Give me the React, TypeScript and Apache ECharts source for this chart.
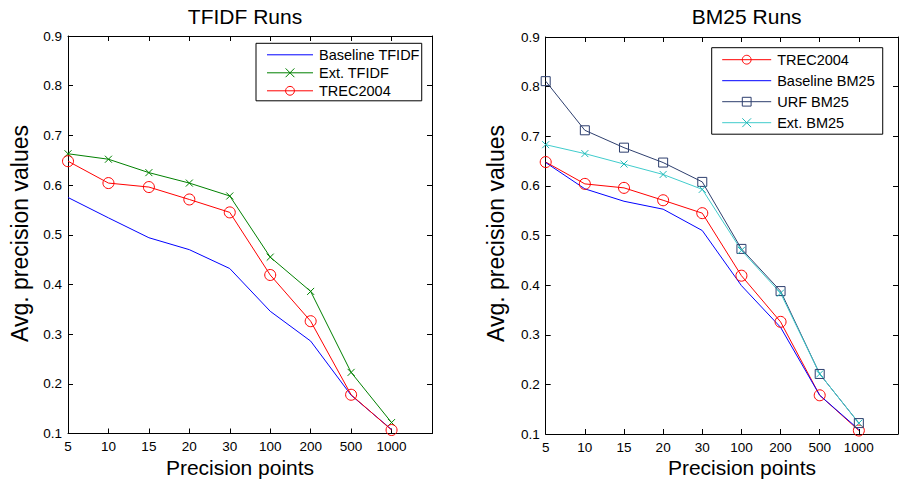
import React, { useEffect, useRef } from "react";
import * as echarts from "echarts";

const categories = ["5", "10", "15", "20", "30", "100", "200", "500", "1000"];

const tfidfBaseline = [0.575, 0.534, 0.494, 0.47, 0.432, 0.346, 0.286, 0.177, 0.108];
const tfidfExt = [0.663, 0.652, 0.625, 0.604, 0.578, 0.455, 0.386, 0.223, 0.122];
const trec2004 = [0.648, 0.604, 0.596, 0.571, 0.545, 0.419, 0.326, 0.178, 0.107];

const bm25Baseline = [0.647, 0.594, 0.569, 0.553, 0.51, 0.399, 0.315, 0.178, 0.109];
const bm25Urf = [0.811, 0.712, 0.677, 0.647, 0.608, 0.473, 0.388, 0.221, 0.122];
const bm25Ext = [0.683, 0.665, 0.644, 0.623, 0.593, 0.47, 0.384, 0.221, 0.122];

const yTicks = [0.1, 0.2, 0.3, 0.4, 0.5, 0.6, 0.7, 0.8, 0.9];

const xAxisTitle = "Precision points";
const yAxisTitle = "Avg. precision values";

const FONT = "Liberation Sans";
const CROSS = "path://M0,0L10,10M10,0L0,10";

const toPairs = (arr: number[]) => arr.map((v, i) => [i, v]);

export default function App() {
  const ref = useRef<HTMLDivElement>(null);

  useEffect(() => {
    if (!ref.current) return;
    const chart = echarts.init(ref.current, null, { renderer: "svg" });

    const grids = [
      { left: 68, top: 36, width: 364, height: 397.5 },
      { left: 545.7, top: 37, width: 364, height: 397 },
    ];

    const xAxes: any[] = [];
    const yAxes: any[] = [];
    grids.forEach((_, gi) => {
      xAxes.push({
        type: "value",
        gridIndex: gi,
        min: 0,
        max: 9,
        interval: 1,
        position: "bottom",
        axisLine: { onZero: false, lineStyle: { color: "#000", width: 1 } },
        axisTick: { inside: true, length: 5, lineStyle: { color: "#000" } },
        splitLine: { show: false },
        axisLabel: {
          color: "#000",
          fontFamily: FONT,
          fontSize: 13.5,
          margin: 6,
          formatter: (v: number) => (categories[v] !== undefined ? categories[v] : ""),
        },
      });
      xAxes.push({
        type: "value",
        gridIndex: gi,
        min: 0,
        max: 9,
        interval: 1,
        position: "top",
        axisLine: { onZero: false, lineStyle: { color: "#000", width: 1 } },
        axisTick: { inside: true, length: 5, lineStyle: { color: "#000" } },
        splitLine: { show: false },
        axisLabel: { show: false },
      });
      yAxes.push({
        type: "value",
        gridIndex: gi,
        min: 0.1,
        max: 0.9,
        interval: 0.1,
        position: "left",
        axisLine: { onZero: false, lineStyle: { color: "#000", width: 1 } },
        axisTick: { inside: true, length: 5, lineStyle: { color: "#000" } },
        splitLine: { show: false },
        axisLabel: {
          color: "#000",
          fontFamily: FONT,
          fontSize: 13.5,
          margin: 6,
          formatter: (v: number) => {
            const t = yTicks.find((y) => Math.abs(y - v) < 1e-6);
            return t !== undefined ? t.toFixed(1) : "";
          },
        },
      });
      yAxes.push({
        type: "value",
        gridIndex: gi,
        min: 0.1,
        max: 0.9,
        interval: 0.1,
        position: "right",
        axisLine: { onZero: false, lineStyle: { color: "#000", width: 1 } },
        axisTick: { inside: true, length: 5, lineStyle: { color: "#000" } },
        splitLine: { show: false },
        axisLabel: { show: false },
      });
    });

    const mk = (
      name: string,
      data: number[],
      gi: number,
      color: string,
      symbol: string,
      size: number,
      markerColor?: string
    ) => ({
      name,
      type: "line",
      xAxisIndex: gi * 2,
      yAxisIndex: gi * 2,
      data: toPairs(data),
      symbol,
      symbolSize: size,
      showSymbol: symbol !== "none",
      lineStyle: { color, width: 1 },
      itemStyle: {
        color: "none",
        borderColor: markerColor || color,
        borderWidth: 1,
      },
      emphasis: { disabled: true },
      z: 2,
    });

    const noMarker = { color: "transparent", borderColor: "transparent", opacity: 0 };

    const axisText = (text: string, x: number, y: number, size: number, rotation = 0) => ({
      type: "text",
      x,
      y,
      rotation,
      silent: true,
      style: {
        text,
        fill: "#000",
        fontFamily: FONT,
        fontSize: size,
        align: "center",
        verticalAlign: "middle",
      },
    });

    const legendCommon = {
      orient: "vertical",
      itemHeight: 11,
      borderColor: "#000",
      borderWidth: 1,
      backgroundColor: "#fff",
      selectedMode: false,
      lineStyle: { width: 1 },
      itemStyle: { borderWidth: 1 },
      textStyle: { color: "#000", fontFamily: FONT, fontSize: 14.5, lineHeight: 16, padding: [0, 0, 0, 1] },
    };

    const option: any = {
      animation: false,
      backgroundColor: "#fff",
      title: [
        {
          text: "TFIDF Runs",
          left: 240,
          textAlign: "center",
          top: 1,
          textStyle: { color: "#000", fontFamily: FONT, fontSize: 21, fontWeight: "normal" },
        },
        {
          text: "BM25 Runs",
          left: 741.7,
          textAlign: "center",
          top: 1,
          textStyle: { color: "#000", fontFamily: FONT, fontSize: 21, fontWeight: "normal" },
        },
      ],
      graphic: [
        axisText(xAxisTitle, 240, 467, 21),
        axisText(xAxisTitle, 742, 467, 21),
        axisText(yAxisTitle, 20, 233.5, 23, Math.PI / 2),
        axisText(yAxisTitle, 496, 233.5, 23, Math.PI / 2),
      ],
      grid: grids,
      xAxis: xAxes,
      yAxis: yAxes,
      legend: [
        {
          ...legendCommon,
          data: [
            { name: "Baseline TFIDF", itemStyle: noMarker },
            "Ext. TFIDF",
            "TREC2004",
          ],
          left: 256,
          top: 43.3,
          itemWidth: 46,
          itemGap: 2,
          padding: [3.5, 2, 2, 10.5],
        },
        {
          ...legendCommon,
          data: [
            "TREC2004",
            { name: "Baseline BM25", itemStyle: noMarker },
            "URF BM25",
            "Ext. BM25",
          ],
          left: 711.7,
          top: 47.7,
          itemWidth: 49,
          itemGap: 5,
          padding: [4, 8, 3.5, 10],
        },
      ],
      series: [
        mk("Baseline TFIDF", tfidfBaseline, 0, "#0000ff", "none", 0),
        mk("Ext. TFIDF", tfidfExt, 0, "#008000", CROSS, 7),
        mk("TREC2004", trec2004, 0, "#ff0000", "circle", 11),
        mk("TREC2004", trec2004, 1, "#ff0000", "circle", 11),
        mk("Baseline BM25", bm25Baseline, 1, "#0000ff", "none", 0),
        mk("URF BM25", bm25Urf, 1, "#2e3f6e", "rect", 9),
        mk("Ext. BM25", bm25Ext, 1, "#40cccc", CROSS, 7, "#1fb8b8"),
      ],
    };

    chart.setOption(option);
    return () => chart.dispose();
  }, []);

  return (
    <div
      ref={ref}
      style={{ position: "absolute", left: 0, top: 0, width: 901, height: 481 }}
    />
  );
}
